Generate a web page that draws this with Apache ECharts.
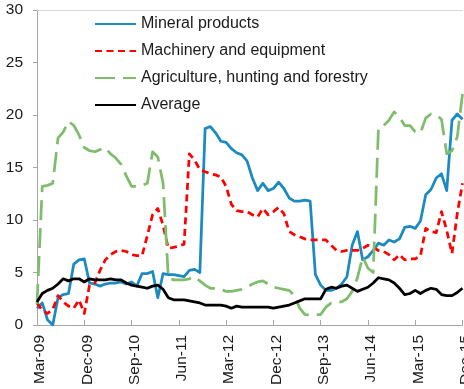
<!DOCTYPE html>
<html>
<head>
<meta charset="utf-8">
<script src="https://cdn.jsdelivr.net/npm/echarts@6/dist/echarts.min.js"></script>
<style>
  html, body { margin: 0; padding: 0; background: #ffffff; }
  #chart { width: 464px; height: 389px; }
</style>
</head>
<body>
<div id="chart"></div>
<script>
// Monthly categories, Mar-09 .. Dec-15
const months = [
  'Mar-09','Apr-09','May-09','Jun-09','Jul-09','Aug-09','Sep-09','Oct-09','Nov-09','Dec-09',
  'Jan-10','Feb-10','Mar-10','Apr-10','May-10','Jun-10','Jul-10','Aug-10','Sep-10','Oct-10','Nov-10','Dec-10',
  'Jan-11','Feb-11','Mar-11','Apr-11','May-11','Jun-11','Jul-11','Aug-11','Sep-11','Oct-11','Nov-11','Dec-11',
  'Jan-12','Feb-12','Mar-12','Apr-12','May-12','Jun-12','Jul-12','Aug-12','Sep-12','Oct-12','Nov-12','Dec-12',
  'Jan-13','Feb-13','Mar-13','Apr-13','May-13','Jun-13','Jul-13','Aug-13','Sep-13','Oct-13','Nov-13','Dec-13',
  'Jan-14','Feb-14','Mar-14','Apr-14','May-14','Jun-14','Jul-14','Aug-14','Sep-14','Oct-14','Nov-14','Dec-14',
  'Jan-15','Feb-15','Mar-15','Apr-15','May-15','Jun-15','Jul-15','Aug-15','Sep-15','Oct-15','Nov-15','Dec-15'
];

const mineral = [
  1.6, 2.1, 0.5, 0.0, 2.6, 2.9, 3.0, 5.8, 6.2, 6.3,
  4.0, 3.9, 3.7, 3.9, 4.0, 4.0, 4.1, 3.9, 4.1, 3.7,
  4.9, 4.9, 5.1, 2.6, 4.9, 4.8, 4.8, 4.7, 4.6, 5.2,
  5.3, 5.0, 18.7, 18.9, 18.3, 17.5, 17.4, 16.8, 16.4, 16.2,
  15.6, 14.0, 12.8, 13.5, 12.8, 13.0, 13.6, 13.0, 12.1, 11.8,
  11.8, 11.9, 11.8, 4.8, 3.8, 3.3, 3.3, 3.5, 3.9, 4.6,
  7.6, 8.9, 6.2, 6.5, 7.1, 7.8, 7.6, 8.1, 7.9, 8.2,
  9.3, 9.4, 9.2, 9.9, 12.4, 12.9, 14.0, 14.4, 12.8, 19.5,
  20.1, 19.6
];

const machinery = [
  2.1, 1.4, 1.1, 1.5, 2.8, 2.2, 1.8, 1.6, 2.4, 1.1,
  3.8, 4.0, 5.2, 6.2, 6.7, 7.0, 7.1, 7.0, 6.7, 6.6,
  6.6, 8.5, 10.5, 11.1, 9.5, 7.3, 7.4, 7.5, 7.7, 16.3,
  15.7, 14.8, 14.6, 14.4, 14.3, 14.1, 13.2, 11.5, 10.9, 10.8,
  10.8, 10.5, 10.3, 11.1, 10.5, 10.8, 11.2, 10.6, 8.9, 8.6,
  8.4, 8.2, 8.1, 8.1, 8.1, 8.1, 7.6, 7.1, 7.0, 7.1,
  7.1, 7.1, 7.3, 7.6, 7.4, 7.1, 7.0, 6.7, 6.2, 6.7,
  6.2, 6.3, 6.3, 6.6, 9.2, 8.9, 8.8, 10.8, 9.0, 6.8,
  10.6, 13.5
];

const agriculture = [
  2.0, 13.2, 13.3, 13.5, 17.8, 18.4, 19.4, 19.0, 18.1, 16.9,
  16.6, 16.5, 16.7, 16.9, 16.3, 15.9, 15.3, 14.2, 13.2, 13.2,
  13.3, 13.5, 16.5, 16.0, 13.5, 4.5, 4.3, 4.3, 4.3, 4.4,
  4.6, 4.2, 3.8, 3.5, 3.5, 3.4, 3.2, 3.2, 3.3, 3.4,
  3.6, 3.9, 4.1, 4.2, 3.9, 3.6, 3.5, 3.4, 3.3, 2.8,
  1.6, 1.0, 0.95, 1.0, 1.0, 1.7, 2.1, 2.2, 2.2, 2.5,
  3.2, 4.5, 6.5, 5.4, 5.0, 18.8, 19.0, 19.5, 20.3, 19.8,
  19.0, 19.0, 18.4, 18.3, 19.7, 20.1, 20.0, 19.6, 16.3, 16.6,
  17.9, 22.0
];

const average = [
  2.2, 3.0, 3.3, 3.5, 3.9, 4.4, 4.2, 4.4, 4.4, 4.1,
  4.4, 4.3, 4.3, 4.3, 4.4, 4.3, 4.3, 4.0, 3.8, 3.7,
  3.6, 3.5, 3.7, 3.8, 3.4, 2.6, 2.4, 2.4, 2.4, 2.3,
  2.2, 2.1, 1.9, 1.9, 1.9, 1.9, 1.8, 1.6, 1.8, 1.7,
  1.7, 1.7, 1.7, 1.7, 1.7, 1.6, 1.7, 1.8, 1.9, 2.1,
  2.3, 2.5, 2.5, 2.5, 2.5, 3.4, 3.6, 3.5, 3.7, 3.8,
  3.5, 3.2, 3.4, 3.6, 4.0, 4.5, 4.4, 4.3, 4.0, 3.5,
  2.9, 3.0, 3.3, 3.0, 3.3, 3.5, 3.4, 2.9, 2.8, 2.8,
  3.1, 3.5
];

const seriesNames = [
  'Mineral products',
  'Machinery and equipment',
  'Agriculture, hunting and forestry',
  'Average'
];

const FONT = '"Liberation Sans", Arial, sans-serif';
const TEXT = '#1a1a1a';
const AXIS = '#a6a6a6';

function lineSeries(name, data, color, dash) {
  return {
    name: name,
    type: 'line',
    data: data,
    symbol: 'none',
    showSymbol: false,
    smooth: false,
    lineStyle: { color: color, width: 2.75, type: dash, cap: 'butt', join: 'round' },
    itemStyle: { color: color },
    emphasis: { disabled: true }
  };
}

const chart = echarts.init(document.getElementById('chart'), null, { renderer: 'canvas' });

chart.setOption({
  animation: false,
  backgroundColor: '#ffffff',
  grid: { left: 37, right: 1.5, top: 10, bottom: 64, containLabel: false, outerBoundsMode: 'none' },
  legend: {
    orient: 'vertical',
    left: 94,
    top: 16,
    padding: 0,
    itemWidth: 41,
    itemHeight: 16,
    itemGap: 11,
    selectedMode: false,
    itemStyle: { opacity: 0 },
    textStyle: { fontFamily: FONT, fontSize: 16, color: TEXT },
    data: seriesNames
  },
  xAxis: [
    {
      type: 'category',
      data: months,
      boundaryGap: false,
      axisLine: { lineStyle: { color: AXIS, width: 1 } },
      axisTick: { inside: true, interval: 8, length: 5, lineStyle: { color: AXIS } },
      axisLabel: {
        interval: 8, rotate: 90, margin: 10, hideOverlap: false,
        verticalAlign: 'top', lineHeight: 6,
        fontFamily: FONT, fontSize: 15.5, color: TEXT
      },
      splitLine: { show: false }
    },
    {
      type: 'category',
      data: months,
      position: 'top',
      boundaryGap: false,
      axisLine: { lineStyle: { color: '#d9d9d9', width: 1 } },
      axisTick: { show: false },
      axisLabel: { show: false },
      splitLine: { show: false }
    }
  ],
  yAxis: {
    type: 'value',
    min: 0,
    max: 30,
    interval: 5,
    axisLine: { show: true, lineStyle: { color: AXIS, width: 1 } },
    axisTick: { show: true, length: 4, lineStyle: { color: AXIS } },
    axisLabel: { fontFamily: FONT, fontSize: 15.5, color: TEXT, margin: 14 },
    splitLine: { show: false }
  },
  series: [
    lineSeries(seriesNames[0], mineral, '#1a8ac0', 'solid'),
    lineSeries(seriesNames[1], machinery, '#ff0000', [7, 4.5]),
    lineSeries(seriesNames[2], agriculture, '#7fbd6c', [20, 8]),
    lineSeries(seriesNames[3], average, '#000000', 'solid')
  ]
});
</script>
</body>
</html>
